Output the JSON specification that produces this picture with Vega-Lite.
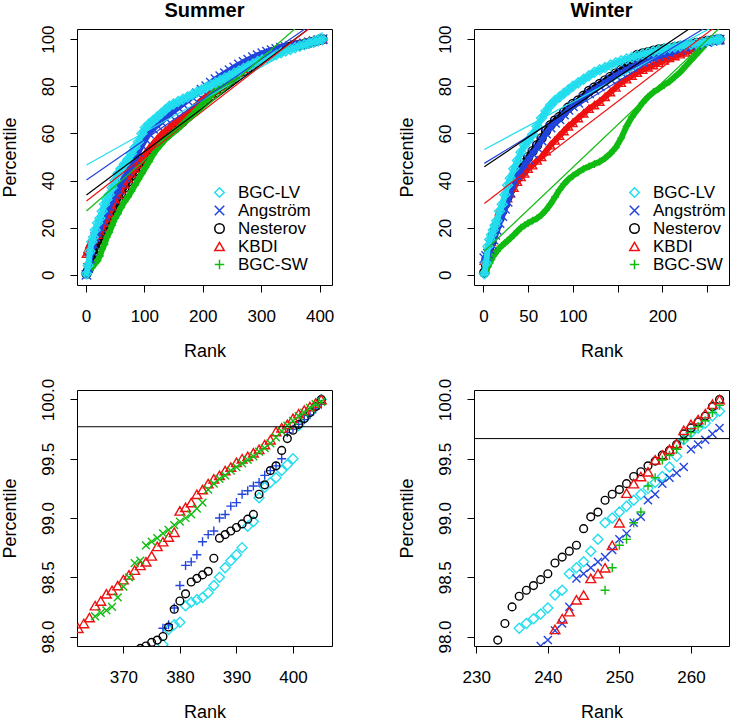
{
"$schema": "https://vega.github.io/schema/vega-lite/v6.json",
"background": "white",
"padding": {"left": 0, "top": 0, "right": 0, "bottom": 0},
"config": {
  "font": "Liberation Sans",
  "view": {"stroke": "black", "strokeWidth": 1},
  "axis": {"domain": false, "grid": false, "ticks": true, "tickColor": "black", "tickSize": 7, "tickWidth": 1, "labelFont": "Liberation Sans", "labelFontSize": 17, "labelColor": "black", "titleFont": "Liberation Sans", "titleFontSize": 18, "titleFontWeight": "normal", "titleColor": "black", "labelFlush": false, "labelOverlap": false},
  "axisX": {"labelPadding": 16, "titlePadding": 18},
  "axisY": {"labelAngle": 270, "labelAlign": "center", "labelBaseline": "bottom", "labelPadding": 12.5, "titlePadding": 20.5},
  "legend": {"labelFontSize": 17, "labelFont": "Liberation Sans", "labelColor": "black", "symbolSize": 90, "symbolStrokeWidth": 1.5, "labelOffset": 10, "rowPadding": 0},
  "title": {"font": "Liberation Sans", "fontSize": 20, "fontWeight": "bold", "color": "black", "offset": 4, "anchor": "middle"}
},
"datasets": {
"sum": [
{"s":"Nesterov","r":1,"p":0.5},{"s":"Nesterov","r":4,"p":2},{"s":"Nesterov","r":7,"p":4},{"s":"Nesterov","r":10,"p":7},{"s":"Nesterov","r":13,"p":9},{"s":"Nesterov","r":16,"p":11},{"s":"Nesterov","r":20,"p":13},{"s":"Nesterov","r":24,"p":15},{"s":"Nesterov","r":28,"p":17},{"s":"Nesterov","r":32,"p":19},{"s":"Nesterov","r":36,"p":21},{"s":"Nesterov","r":40,"p":23},{"s":"Nesterov","r":45,"p":26},{"s":"Nesterov","r":50,"p":29},{"s":"Nesterov","r":55,"p":32},{"s":"Nesterov","r":60,"p":34.5},{"s":"Nesterov","r":66,"p":37},{"s":"Nesterov","r":72,"p":39.5},{"s":"Nesterov","r":78,"p":42},{"s":"Nesterov","r":84,"p":44},{"s":"Nesterov","r":90,"p":46},{"s":"Nesterov","r":96,"p":48},{"s":"Nesterov","r":102,"p":50},{"s":"Nesterov","r":108,"p":52},{"s":"Nesterov","r":115,"p":54},{"s":"Nesterov","r":122,"p":56},{"s":"Nesterov","r":129,"p":57.5},{"s":"Nesterov","r":136,"p":59},{"s":"Nesterov","r":143,"p":60.5},{"s":"Nesterov","r":150,"p":62},{"s":"Nesterov","r":158,"p":63.5},{"s":"Nesterov","r":166,"p":65},{"s":"Nesterov","r":174,"p":67},{"s":"Nesterov","r":182,"p":69},{"s":"Nesterov","r":190,"p":71},{"s":"Nesterov","r":198,"p":73},{"s":"Nesterov","r":206,"p":74.5},{"s":"Nesterov","r":214,"p":76},{"s":"Nesterov","r":222,"p":77.5},{"s":"Nesterov","r":230,"p":79},{"s":"Nesterov","r":238,"p":80.5},{"s":"Nesterov","r":246,"p":82},{"s":"Nesterov","r":254,"p":83.5},{"s":"Nesterov","r":262,"p":85},{"s":"Nesterov","r":270,"p":86.5},{"s":"Nesterov","r":278,"p":88},{"s":"Nesterov","r":286,"p":89.5},{"s":"Nesterov","r":294,"p":90.8},{"s":"Nesterov","r":302,"p":92},{"s":"Nesterov","r":310,"p":93},{"s":"Nesterov","r":318,"p":94},{"s":"Nesterov","r":326,"p":95},{"s":"Nesterov","r":334,"p":95.7},{"s":"Nesterov","r":342,"p":96.3},{"s":"Nesterov","r":350,"p":96.8},{"s":"Nesterov","r":358,"p":97.3},{"s":"Nesterov","r":366,"p":97.6},{"s":"Nesterov","r":374,"p":97.92},{"s":"Nesterov","r":382,"p":98.46},{"s":"Nesterov","r":390,"p":98.92},{"s":"Nesterov","r":398,"p":99.57},{"s":"Nesterov","r":405,"p":100},
{"s":"KBDI","r":1,"p":9},{"s":"KBDI","r":4,"p":11},{"s":"KBDI","r":7,"p":13},{"s":"KBDI","r":10,"p":14},{"s":"KBDI","r":13,"p":15},{"s":"KBDI","r":16,"p":16},{"s":"KBDI","r":20,"p":17},{"s":"KBDI","r":24,"p":18.5},{"s":"KBDI","r":28,"p":20},{"s":"KBDI","r":32,"p":22},{"s":"KBDI","r":36,"p":24},{"s":"KBDI","r":40,"p":26},{"s":"KBDI","r":45,"p":29},{"s":"KBDI","r":50,"p":32},{"s":"KBDI","r":55,"p":34},{"s":"KBDI","r":60,"p":36},{"s":"KBDI","r":66,"p":38.5},{"s":"KBDI","r":72,"p":41},{"s":"KBDI","r":78,"p":43},{"s":"KBDI","r":84,"p":45},{"s":"KBDI","r":90,"p":47},{"s":"KBDI","r":96,"p":49},{"s":"KBDI","r":102,"p":51.5},{"s":"KBDI","r":108,"p":53.5},{"s":"KBDI","r":115,"p":55.5},{"s":"KBDI","r":122,"p":57.5},{"s":"KBDI","r":129,"p":59.5},{"s":"KBDI","r":136,"p":61},{"s":"KBDI","r":143,"p":62.5},{"s":"KBDI","r":150,"p":64},{"s":"KBDI","r":158,"p":65.5},{"s":"KBDI","r":166,"p":67},{"s":"KBDI","r":174,"p":68.5},{"s":"KBDI","r":182,"p":70},{"s":"KBDI","r":190,"p":72},{"s":"KBDI","r":198,"p":74},{"s":"KBDI","r":206,"p":75.5},{"s":"KBDI","r":214,"p":77},{"s":"KBDI","r":222,"p":78.5},{"s":"KBDI","r":230,"p":80},{"s":"KBDI","r":238,"p":81.5},{"s":"KBDI","r":246,"p":83},{"s":"KBDI","r":254,"p":84.5},{"s":"KBDI","r":262,"p":86},{"s":"KBDI","r":270,"p":87.5},{"s":"KBDI","r":278,"p":89},{"s":"KBDI","r":286,"p":90.3},{"s":"KBDI","r":294,"p":91.5},{"s":"KBDI","r":302,"p":92.7},{"s":"KBDI","r":310,"p":93.7},{"s":"KBDI","r":318,"p":94.6},{"s":"KBDI","r":326,"p":95.4},{"s":"KBDI","r":334,"p":96.1},{"s":"KBDI","r":342,"p":96.7},{"s":"KBDI","r":350,"p":97.2},{"s":"KBDI","r":358,"p":97.7},{"s":"KBDI","r":366,"p":98.3},{"s":"KBDI","r":374,"p":98.63},{"s":"KBDI","r":382,"p":99.13},{"s":"KBDI","r":390,"p":99.47},{"s":"KBDI","r":398,"p":99.76},{"s":"KBDI","r":405,"p":100},
{"s":"BGC-SW","r":1,"p":0.5},{"s":"BGC-SW","r":4,"p":1},{"s":"BGC-SW","r":7,"p":2},{"s":"BGC-SW","r":10,"p":3},{"s":"BGC-SW","r":13,"p":4},{"s":"BGC-SW","r":16,"p":5},{"s":"BGC-SW","r":20,"p":6},{"s":"BGC-SW","r":24,"p":8},{"s":"BGC-SW","r":28,"p":11},{"s":"BGC-SW","r":32,"p":13},{"s":"BGC-SW","r":36,"p":16},{"s":"BGC-SW","r":40,"p":18},{"s":"BGC-SW","r":45,"p":21},{"s":"BGC-SW","r":50,"p":24},{"s":"BGC-SW","r":55,"p":26},{"s":"BGC-SW","r":60,"p":28.5},{"s":"BGC-SW","r":66,"p":31},{"s":"BGC-SW","r":72,"p":33},{"s":"BGC-SW","r":78,"p":35.5},{"s":"BGC-SW","r":84,"p":38},{"s":"BGC-SW","r":90,"p":40.5},{"s":"BGC-SW","r":96,"p":43},{"s":"BGC-SW","r":102,"p":45.5},{"s":"BGC-SW","r":108,"p":48},{"s":"BGC-SW","r":115,"p":51},{"s":"BGC-SW","r":122,"p":53.5},{"s":"BGC-SW","r":129,"p":55.5},{"s":"BGC-SW","r":136,"p":57.5},{"s":"BGC-SW","r":143,"p":59},{"s":"BGC-SW","r":150,"p":60.5},{"s":"BGC-SW","r":158,"p":62},{"s":"BGC-SW","r":166,"p":64},{"s":"BGC-SW","r":174,"p":66},{"s":"BGC-SW","r":182,"p":68},{"s":"BGC-SW","r":190,"p":70},{"s":"BGC-SW","r":198,"p":72},{"s":"BGC-SW","r":206,"p":74},{"s":"BGC-SW","r":214,"p":76},{"s":"BGC-SW","r":222,"p":78},{"s":"BGC-SW","r":230,"p":79.5},{"s":"BGC-SW","r":238,"p":81},{"s":"BGC-SW","r":246,"p":82.5},{"s":"BGC-SW","r":254,"p":84},{"s":"BGC-SW","r":262,"p":85.5},{"s":"BGC-SW","r":270,"p":87},{"s":"BGC-SW","r":278,"p":88.5},{"s":"BGC-SW","r":286,"p":90},{"s":"BGC-SW","r":294,"p":91.3},{"s":"BGC-SW","r":302,"p":92.5},{"s":"BGC-SW","r":310,"p":93.5},{"s":"BGC-SW","r":318,"p":94.5},{"s":"BGC-SW","r":326,"p":95.3},{"s":"BGC-SW","r":334,"p":96},{"s":"BGC-SW","r":342,"p":96.6},{"s":"BGC-SW","r":350,"p":97.1},{"s":"BGC-SW","r":358,"p":97.7},{"s":"BGC-SW","r":366,"p":98.2},{"s":"BGC-SW","r":374,"p":98.77},{"s":"BGC-SW","r":382,"p":99.03},{"s":"BGC-SW","r":390,"p":99.43},{"s":"BGC-SW","r":398,"p":99.73},{"s":"BGC-SW","r":405,"p":99.98},
{"s":"Angström","r":1,"p":0},{"s":"Angström","r":4,"p":3},{"s":"Angström","r":7,"p":7},{"s":"Angström","r":10,"p":10},{"s":"Angström","r":13,"p":13},{"s":"Angström","r":16,"p":16},{"s":"Angström","r":20,"p":18},{"s":"Angström","r":24,"p":20},{"s":"Angström","r":28,"p":23},{"s":"Angström","r":32,"p":25},{"s":"Angström","r":36,"p":27},{"s":"Angström","r":40,"p":29},{"s":"Angström","r":45,"p":32},{"s":"Angström","r":50,"p":34},{"s":"Angström","r":55,"p":36},{"s":"Angström","r":60,"p":39},{"s":"Angström","r":66,"p":41.5},{"s":"Angström","r":72,"p":44},{"s":"Angström","r":78,"p":46.5},{"s":"Angström","r":84,"p":49},{"s":"Angström","r":90,"p":52},{"s":"Angström","r":96,"p":55},{"s":"Angström","r":102,"p":57.5},{"s":"Angström","r":108,"p":60},{"s":"Angström","r":115,"p":62},{"s":"Angström","r":122,"p":63.5},{"s":"Angström","r":129,"p":65},{"s":"Angström","r":136,"p":66.5},{"s":"Angström","r":143,"p":68},{"s":"Angström","r":150,"p":69.5},{"s":"Angström","r":158,"p":71},{"s":"Angström","r":166,"p":72.5},{"s":"Angström","r":174,"p":74},{"s":"Angström","r":182,"p":75.5},{"s":"Angström","r":190,"p":77},{"s":"Angström","r":198,"p":78.5},{"s":"Angström","r":206,"p":80},{"s":"Angström","r":214,"p":81.5},{"s":"Angström","r":222,"p":83},{"s":"Angström","r":230,"p":84.3},{"s":"Angström","r":238,"p":85.5},{"s":"Angström","r":246,"p":86.8},{"s":"Angström","r":254,"p":88},{"s":"Angström","r":262,"p":89.2},{"s":"Angström","r":270,"p":90.3},{"s":"Angström","r":278,"p":91.3},{"s":"Angström","r":286,"p":92.3},{"s":"Angström","r":294,"p":93.2},{"s":"Angström","r":302,"p":94},{"s":"Angström","r":310,"p":94.7},{"s":"Angström","r":318,"p":95.3},{"s":"Angström","r":326,"p":95.8},{"s":"Angström","r":334,"p":96.3},{"s":"Angström","r":342,"p":96.7},{"s":"Angström","r":350,"p":97.1},{"s":"Angström","r":358,"p":97.5},{"s":"Angström","r":366,"p":97.8},{"s":"Angström","r":374,"p":98},{"s":"Angström","r":382,"p":98.6},{"s":"Angström","r":390,"p":99.1},{"s":"Angström","r":398,"p":99.5},{"s":"Angström","r":405,"p":99.96},
{"s":"BGC-LV","r":1,"p":0.5},{"s":"BGC-LV","r":4,"p":4},{"s":"BGC-LV","r":7,"p":10},{"s":"BGC-LV","r":10,"p":14},{"s":"BGC-LV","r":13,"p":16},{"s":"BGC-LV","r":16,"p":19},{"s":"BGC-LV","r":20,"p":22},{"s":"BGC-LV","r":24,"p":24},{"s":"BGC-LV","r":28,"p":27},{"s":"BGC-LV","r":32,"p":30},{"s":"BGC-LV","r":36,"p":32},{"s":"BGC-LV","r":40,"p":34},{"s":"BGC-LV","r":45,"p":37},{"s":"BGC-LV","r":50,"p":40},{"s":"BGC-LV","r":55,"p":43},{"s":"BGC-LV","r":60,"p":45},{"s":"BGC-LV","r":66,"p":47},{"s":"BGC-LV","r":72,"p":49},{"s":"BGC-LV","r":78,"p":51.5},{"s":"BGC-LV","r":84,"p":54},{"s":"BGC-LV","r":90,"p":56.5},{"s":"BGC-LV","r":96,"p":60},{"s":"BGC-LV","r":102,"p":62.5},{"s":"BGC-LV","r":108,"p":64},{"s":"BGC-LV","r":115,"p":65.5},{"s":"BGC-LV","r":122,"p":67},{"s":"BGC-LV","r":129,"p":68.5},{"s":"BGC-LV","r":136,"p":70},{"s":"BGC-LV","r":143,"p":71.5},{"s":"BGC-LV","r":150,"p":72.5},{"s":"BGC-LV","r":158,"p":73.5},{"s":"BGC-LV","r":166,"p":74.5},{"s":"BGC-LV","r":174,"p":75.5},{"s":"BGC-LV","r":182,"p":76.5},{"s":"BGC-LV","r":190,"p":77.5},{"s":"BGC-LV","r":198,"p":78.5},{"s":"BGC-LV","r":206,"p":79.5},{"s":"BGC-LV","r":214,"p":80.5},{"s":"BGC-LV","r":222,"p":81.5},{"s":"BGC-LV","r":230,"p":82.5},{"s":"BGC-LV","r":238,"p":83.5},{"s":"BGC-LV","r":246,"p":84.5},{"s":"BGC-LV","r":254,"p":85.5},{"s":"BGC-LV","r":262,"p":86.5},{"s":"BGC-LV","r":270,"p":87.5},{"s":"BGC-LV","r":278,"p":88.5},{"s":"BGC-LV","r":286,"p":89.5},{"s":"BGC-LV","r":294,"p":90.5},{"s":"BGC-LV","r":302,"p":91.3},{"s":"BGC-LV","r":310,"p":92},{"s":"BGC-LV","r":318,"p":92.8},{"s":"BGC-LV","r":326,"p":93.5},{"s":"BGC-LV","r":334,"p":94.2},{"s":"BGC-LV","r":342,"p":95},{"s":"BGC-LV","r":350,"p":95.6},{"s":"BGC-LV","r":358,"p":96.3},{"s":"BGC-LV","r":366,"p":97},{"s":"BGC-LV","r":374,"p":97.6},{"s":"BGC-LV","r":382,"p":98.3},{"s":"BGC-LV","r":390,"p":98.7},{"s":"BGC-LV","r":398,"p":99.4},{"s":"BGC-LV","r":405,"p":100}
],
"win": [
{"s":"Nesterov","r":1,"p":1},{"s":"Nesterov","r":3,"p":4},{"s":"Nesterov","r":5,"p":7},{"s":"Nesterov","r":7,"p":10},{"s":"Nesterov","r":9,"p":14},{"s":"Nesterov","r":11,"p":17},{"s":"Nesterov","r":13,"p":19},{"s":"Nesterov","r":15,"p":21},{"s":"Nesterov","r":18,"p":24},{"s":"Nesterov","r":21,"p":27},{"s":"Nesterov","r":24,"p":30},{"s":"Nesterov","r":27,"p":33},{"s":"Nesterov","r":30,"p":36},{"s":"Nesterov","r":34,"p":40.5},{"s":"Nesterov","r":38,"p":43},{"s":"Nesterov","r":42,"p":45.5},{"s":"Nesterov","r":46,"p":47.5},{"s":"Nesterov","r":50,"p":50},{"s":"Nesterov","r":55,"p":52.5},{"s":"Nesterov","r":60,"p":55},{"s":"Nesterov","r":65,"p":58},{"s":"Nesterov","r":70,"p":61},{"s":"Nesterov","r":75,"p":63.5},{"s":"Nesterov","r":80,"p":65.5},{"s":"Nesterov","r":85,"p":67},{"s":"Nesterov","r":90,"p":69},{"s":"Nesterov","r":95,"p":71},{"s":"Nesterov","r":100,"p":72.5},{"s":"Nesterov","r":106,"p":74},{"s":"Nesterov","r":112,"p":76},{"s":"Nesterov","r":118,"p":78},{"s":"Nesterov","r":124,"p":79.5},{"s":"Nesterov","r":130,"p":81},{"s":"Nesterov","r":136,"p":82.5},{"s":"Nesterov","r":142,"p":84},{"s":"Nesterov","r":148,"p":85.5},{"s":"Nesterov","r":154,"p":87},{"s":"Nesterov","r":160,"p":89},{"s":"Nesterov","r":166,"p":91.5},{"s":"Nesterov","r":172,"p":93.3},{"s":"Nesterov","r":178,"p":93.9},{"s":"Nesterov","r":184,"p":94.5},{"s":"Nesterov","r":190,"p":95.1},{"s":"Nesterov","r":196,"p":95.6},{"s":"Nesterov","r":202,"p":96},{"s":"Nesterov","r":208,"p":96.3},{"s":"Nesterov","r":214,"p":96.7},{"s":"Nesterov","r":220,"p":97.1},{"s":"Nesterov","r":226,"p":97.5},{"s":"Nesterov","r":232,"p":97.85},{"s":"Nesterov","r":238,"p":98.43},{"s":"Nesterov","r":244,"p":98.77},{"s":"Nesterov","r":250,"p":99.24},{"s":"Nesterov","r":256,"p":99.53},{"s":"Nesterov","r":262,"p":99.86},{"s":"Nesterov","r":264,"p":100},
{"s":"KBDI","r":1,"p":6},{"s":"KBDI","r":3,"p":7},{"s":"KBDI","r":5,"p":9},{"s":"KBDI","r":7,"p":11},{"s":"KBDI","r":9,"p":14},{"s":"KBDI","r":11,"p":17},{"s":"KBDI","r":13,"p":20},{"s":"KBDI","r":15,"p":23},{"s":"KBDI","r":18,"p":27},{"s":"KBDI","r":21,"p":28.5},{"s":"KBDI","r":24,"p":30.5},{"s":"KBDI","r":27,"p":32.5},{"s":"KBDI","r":30,"p":34.5},{"s":"KBDI","r":34,"p":37},{"s":"KBDI","r":38,"p":39.5},{"s":"KBDI","r":42,"p":41.5},{"s":"KBDI","r":46,"p":43},{"s":"KBDI","r":50,"p":45},{"s":"KBDI","r":55,"p":46.5},{"s":"KBDI","r":60,"p":48.5},{"s":"KBDI","r":65,"p":50},{"s":"KBDI","r":70,"p":52.5},{"s":"KBDI","r":75,"p":55},{"s":"KBDI","r":80,"p":57},{"s":"KBDI","r":85,"p":59},{"s":"KBDI","r":90,"p":61},{"s":"KBDI","r":95,"p":63},{"s":"KBDI","r":100,"p":64.5},{"s":"KBDI","r":106,"p":66.5},{"s":"KBDI","r":112,"p":68.5},{"s":"KBDI","r":118,"p":70.5},{"s":"KBDI","r":124,"p":72},{"s":"KBDI","r":130,"p":73.5},{"s":"KBDI","r":136,"p":75.5},{"s":"KBDI","r":142,"p":77.5},{"s":"KBDI","r":148,"p":79.5},{"s":"KBDI","r":154,"p":81.5},{"s":"KBDI","r":160,"p":83},{"s":"KBDI","r":166,"p":84.5},{"s":"KBDI","r":172,"p":85.8},{"s":"KBDI","r":178,"p":87},{"s":"KBDI","r":184,"p":88},{"s":"KBDI","r":190,"p":89},{"s":"KBDI","r":196,"p":90},{"s":"KBDI","r":202,"p":91},{"s":"KBDI","r":208,"p":92},{"s":"KBDI","r":214,"p":92.8},{"s":"KBDI","r":220,"p":93.6},{"s":"KBDI","r":226,"p":94.4},{"s":"KBDI","r":232,"p":95.4},{"s":"KBDI","r":238,"p":97.6},{"s":"KBDI","r":244,"p":98.31},{"s":"KBDI","r":250,"p":98.96},{"s":"KBDI","r":256,"p":99.53},{"s":"KBDI","r":262,"p":99.88},{"s":"KBDI","r":264,"p":100},
{"s":"BGC-SW","r":1,"p":1},{"s":"BGC-SW","r":3,"p":2},{"s":"BGC-SW","r":5,"p":3.5},{"s":"BGC-SW","r":7,"p":5},{"s":"BGC-SW","r":9,"p":6.5},{"s":"BGC-SW","r":11,"p":8},{"s":"BGC-SW","r":13,"p":9},{"s":"BGC-SW","r":15,"p":10},{"s":"BGC-SW","r":18,"p":11.5},{"s":"BGC-SW","r":21,"p":12.5},{"s":"BGC-SW","r":24,"p":13.5},{"s":"BGC-SW","r":27,"p":14.5},{"s":"BGC-SW","r":30,"p":15.5},{"s":"BGC-SW","r":34,"p":17},{"s":"BGC-SW","r":38,"p":18.5},{"s":"BGC-SW","r":42,"p":20},{"s":"BGC-SW","r":46,"p":21},{"s":"BGC-SW","r":50,"p":22},{"s":"BGC-SW","r":55,"p":23},{"s":"BGC-SW","r":60,"p":24},{"s":"BGC-SW","r":65,"p":25.5},{"s":"BGC-SW","r":70,"p":27.5},{"s":"BGC-SW","r":75,"p":30},{"s":"BGC-SW","r":80,"p":33},{"s":"BGC-SW","r":85,"p":36},{"s":"BGC-SW","r":90,"p":38.5},{"s":"BGC-SW","r":95,"p":40.5},{"s":"BGC-SW","r":100,"p":42},{"s":"BGC-SW","r":106,"p":43.5},{"s":"BGC-SW","r":112,"p":45},{"s":"BGC-SW","r":118,"p":46},{"s":"BGC-SW","r":124,"p":47},{"s":"BGC-SW","r":130,"p":48},{"s":"BGC-SW","r":136,"p":49.5},{"s":"BGC-SW","r":142,"p":51.5},{"s":"BGC-SW","r":148,"p":54},{"s":"BGC-SW","r":154,"p":58},{"s":"BGC-SW","r":160,"p":63},{"s":"BGC-SW","r":166,"p":67},{"s":"BGC-SW","r":172,"p":70},{"s":"BGC-SW","r":178,"p":73},{"s":"BGC-SW","r":184,"p":75.5},{"s":"BGC-SW","r":190,"p":77.5},{"s":"BGC-SW","r":196,"p":79},{"s":"BGC-SW","r":202,"p":80.5},{"s":"BGC-SW","r":208,"p":82},{"s":"BGC-SW","r":214,"p":84},{"s":"BGC-SW","r":220,"p":86},{"s":"BGC-SW","r":226,"p":88.5},{"s":"BGC-SW","r":232,"p":91},{"s":"BGC-SW","r":238,"p":93.5},{"s":"BGC-SW","r":244,"p":96},{"s":"BGC-SW","r":250,"p":98.77},{"s":"BGC-SW","r":256,"p":99.49},{"s":"BGC-SW","r":262,"p":99.82},{"s":"BGC-SW","r":264,"p":99.95},
{"s":"Angström","r":1,"p":7},{"s":"Angström","r":3,"p":8},{"s":"Angström","r":5,"p":9},{"s":"Angström","r":7,"p":11},{"s":"Angström","r":9,"p":13},{"s":"Angström","r":11,"p":15},{"s":"Angström","r":13,"p":17},{"s":"Angström","r":15,"p":19},{"s":"Angström","r":18,"p":22},{"s":"Angström","r":21,"p":25},{"s":"Angström","r":24,"p":28},{"s":"Angström","r":27,"p":31},{"s":"Angström","r":30,"p":35},{"s":"Angström","r":34,"p":40},{"s":"Angström","r":38,"p":42},{"s":"Angström","r":42,"p":44.5},{"s":"Angström","r":46,"p":46.5},{"s":"Angström","r":50,"p":49},{"s":"Angström","r":55,"p":51.5},{"s":"Angström","r":60,"p":54},{"s":"Angström","r":65,"p":57},{"s":"Angström","r":70,"p":60},{"s":"Angström","r":75,"p":62.5},{"s":"Angström","r":80,"p":64.5},{"s":"Angström","r":85,"p":66},{"s":"Angström","r":90,"p":68},{"s":"Angström","r":95,"p":70},{"s":"Angström","r":100,"p":71.5},{"s":"Angström","r":106,"p":73},{"s":"Angström","r":112,"p":75},{"s":"Angström","r":118,"p":77},{"s":"Angström","r":124,"p":78.5},{"s":"Angström","r":130,"p":80},{"s":"Angström","r":136,"p":81.5},{"s":"Angström","r":142,"p":83},{"s":"Angström","r":148,"p":84.5},{"s":"Angström","r":154,"p":85.8},{"s":"Angström","r":160,"p":87},{"s":"Angström","r":166,"p":88.2},{"s":"Angström","r":172,"p":89.3},{"s":"Angström","r":178,"p":90.3},{"s":"Angström","r":184,"p":91.2},{"s":"Angström","r":190,"p":92},{"s":"Angström","r":196,"p":92.8},{"s":"Angström","r":202,"p":93.5},{"s":"Angström","r":208,"p":94.2},{"s":"Angström","r":214,"p":94.9},{"s":"Angström","r":220,"p":95.6},{"s":"Angström","r":226,"p":96.3},{"s":"Angström","r":232,"p":97},{"s":"Angström","r":238,"p":97.7},{"s":"Angström","r":244,"p":98.49},{"s":"Angström","r":250,"p":98.82},{"s":"Angström","r":256,"p":99.29},{"s":"Angström","r":262,"p":99.66},{"s":"Angström","r":264,"p":99.76},
{"s":"BGC-LV","r":1,"p":0.5},{"s":"BGC-LV","r":3,"p":5},{"s":"BGC-LV","r":5,"p":12},{"s":"BGC-LV","r":7,"p":15},{"s":"BGC-LV","r":9,"p":17},{"s":"BGC-LV","r":11,"p":19},{"s":"BGC-LV","r":13,"p":21},{"s":"BGC-LV","r":15,"p":23},{"s":"BGC-LV","r":18,"p":27},{"s":"BGC-LV","r":21,"p":30},{"s":"BGC-LV","r":24,"p":34},{"s":"BGC-LV","r":27,"p":38},{"s":"BGC-LV","r":30,"p":41},{"s":"BGC-LV","r":34,"p":45},{"s":"BGC-LV","r":38,"p":48.5},{"s":"BGC-LV","r":42,"p":52},{"s":"BGC-LV","r":46,"p":55},{"s":"BGC-LV","r":50,"p":57},{"s":"BGC-LV","r":55,"p":59.5},{"s":"BGC-LV","r":60,"p":63},{"s":"BGC-LV","r":65,"p":66.5},{"s":"BGC-LV","r":70,"p":69.5},{"s":"BGC-LV","r":75,"p":72},{"s":"BGC-LV","r":80,"p":74},{"s":"BGC-LV","r":85,"p":75.5},{"s":"BGC-LV","r":90,"p":77},{"s":"BGC-LV","r":95,"p":78.5},{"s":"BGC-LV","r":100,"p":80},{"s":"BGC-LV","r":106,"p":81.5},{"s":"BGC-LV","r":112,"p":83},{"s":"BGC-LV","r":118,"p":84.5},{"s":"BGC-LV","r":124,"p":86},{"s":"BGC-LV","r":130,"p":87},{"s":"BGC-LV","r":136,"p":88},{"s":"BGC-LV","r":142,"p":89},{"s":"BGC-LV","r":148,"p":90},{"s":"BGC-LV","r":154,"p":90.8},{"s":"BGC-LV","r":160,"p":91.6},{"s":"BGC-LV","r":166,"p":92.3},{"s":"BGC-LV","r":172,"p":93},{"s":"BGC-LV","r":178,"p":93.6},{"s":"BGC-LV","r":184,"p":94.2},{"s":"BGC-LV","r":190,"p":94.8},{"s":"BGC-LV","r":196,"p":95.3},{"s":"BGC-LV","r":202,"p":95.8},{"s":"BGC-LV","r":208,"p":96.3},{"s":"BGC-LV","r":214,"p":96.7},{"s":"BGC-LV","r":220,"p":97.1},{"s":"BGC-LV","r":226,"p":97.5},{"s":"BGC-LV","r":232,"p":97.8},{"s":"BGC-LV","r":238,"p":98.15},{"s":"BGC-LV","r":244,"p":98.58},{"s":"BGC-LV","r":250,"p":99.05},{"s":"BGC-LV","r":256,"p":99.35},{"s":"BGC-LV","r":262,"p":99.8},{"s":"BGC-LV","r":264,"p":99.9}
],
"suml": [
{"s":"BGC-LV","r":1,"p":46.6},{"s":"BGC-LV","r":405,"p":102.8},
{"s":"Angström","r":1,"p":40.2},{"s":"Angström","r":405,"p":109.5},
{"s":"Nesterov","r":1,"p":33.9},{"s":"Nesterov","r":405,"p":108.8},
{"s":"KBDI","r":1,"p":31.3},{"s":"KBDI","r":405,"p":108.9},
{"s":"BGC-SW","r":1,"p":27.1},{"s":"BGC-SW","r":405,"p":114.6}
],
"winl": [
{"s":"BGC-LV","r":1,"p":53.2},{"s":"BGC-LV","r":264,"p":106.7},
{"s":"Angström","r":1,"p":47.3},{"s":"Angström","r":264,"p":108.6},
{"s":"Nesterov","r":1,"p":45.9},{"s":"Nesterov","r":264,"p":113},
{"s":"KBDI","r":1,"p":30.3},{"s":"KBDI","r":264,"p":106.6},
{"s":"BGC-SW","r":1,"p":10},{"s":"BGC-SW","r":264,"p":104.7}
],
"sumz": [
{"s":"BGC-LV","r":377,"p":97.93},{"s":"BGC-LV","r":378,"p":98.06},{"s":"BGC-LV","r":379,"p":98.1},{"s":"BGC-LV","r":380,"p":98.12},{"s":"BGC-LV","r":381,"p":98.26},{"s":"BGC-LV","r":382,"p":98.29},{"s":"BGC-LV","r":383,"p":98.31},{"s":"BGC-LV","r":384,"p":98.33},{"s":"BGC-LV","r":385,"p":98.37},{"s":"BGC-LV","r":386,"p":98.43},{"s":"BGC-LV","r":387,"p":98.5},{"s":"BGC-LV","r":388,"p":98.58},{"s":"BGC-LV","r":389,"p":98.64},{"s":"BGC-LV","r":390,"p":98.69},{"s":"BGC-LV","r":391,"p":98.75},{"s":"BGC-LV","r":392,"p":98.93},{"s":"BGC-LV","r":393,"p":98.97},{"s":"BGC-LV","r":394,"p":99.17},{"s":"BGC-LV","r":395,"p":99.26},{"s":"BGC-LV","r":396,"p":99.3},{"s":"BGC-LV","r":397,"p":99.34},{"s":"BGC-LV","r":398,"p":99.4},{"s":"BGC-LV","r":399,"p":99.45},{"s":"BGC-LV","r":400,"p":99.5},{"s":"BGC-LV","r":401,"p":99.78},{"s":"BGC-LV","r":402,"p":99.84},{"s":"BGC-LV","r":403,"p":99.89},{"s":"BGC-LV","r":404,"p":99.94},{"s":"BGC-LV","r":405,"p":100},
{"s":"Angström","r":377,"p":98.07},{"s":"Angström","r":378,"p":98.1},{"s":"Angström","r":379,"p":98.24},{"s":"Angström","r":380,"p":98.43},{"s":"Angström","r":381,"p":98.6},{"s":"Angström","r":382,"p":98.63},{"s":"Angström","r":383,"p":98.69},{"s":"Angström","r":384,"p":98.8},{"s":"Angström","r":385,"p":98.86},{"s":"Angström","r":386,"p":98.89},{"s":"Angström","r":387,"p":99},{"s":"Angström","r":388,"p":99.03},{"s":"Angström","r":389,"p":99.1},{"s":"Angström","r":390,"p":99.13},{"s":"Angström","r":391,"p":99.2},{"s":"Angström","r":392,"p":99.23},{"s":"Angström","r":393,"p":99.27},{"s":"Angström","r":394,"p":99.3},{"s":"Angström","r":395,"p":99.36},{"s":"Angström","r":396,"p":99.4},{"s":"Angström","r":397,"p":99.44},{"s":"Angström","r":398,"p":99.5},{"s":"Angström","r":399,"p":99.72},{"s":"Angström","r":400,"p":99.75},{"s":"Angström","r":401,"p":99.79},{"s":"Angström","r":402,"p":99.83},{"s":"Angström","r":403,"p":99.87},{"s":"Angström","r":404,"p":99.92},{"s":"Angström","r":405,"p":99.96},
{"s":"Nesterov","r":373,"p":97.9},{"s":"Nesterov","r":374,"p":97.92},{"s":"Nesterov","r":375,"p":97.95},{"s":"Nesterov","r":376,"p":97.97},{"s":"Nesterov","r":377,"p":98},{"s":"Nesterov","r":378,"p":98.08},{"s":"Nesterov","r":379,"p":98.23},{"s":"Nesterov","r":380,"p":98.3},{"s":"Nesterov","r":381,"p":98.36},{"s":"Nesterov","r":382,"p":98.46},{"s":"Nesterov","r":383,"p":98.49},{"s":"Nesterov","r":384,"p":98.52},{"s":"Nesterov","r":385,"p":98.55},{"s":"Nesterov","r":386,"p":98.66},{"s":"Nesterov","r":387,"p":98.83},{"s":"Nesterov","r":388,"p":98.86},{"s":"Nesterov","r":389,"p":98.89},{"s":"Nesterov","r":390,"p":98.92},{"s":"Nesterov","r":391,"p":98.95},{"s":"Nesterov","r":392,"p":98.99},{"s":"Nesterov","r":393,"p":99.03},{"s":"Nesterov","r":394,"p":99.2},{"s":"Nesterov","r":395,"p":99.28},{"s":"Nesterov","r":396,"p":99.4},{"s":"Nesterov","r":397,"p":99.44},{"s":"Nesterov","r":398,"p":99.57},{"s":"Nesterov","r":399,"p":99.67},{"s":"Nesterov","r":400,"p":99.74},{"s":"Nesterov","r":401,"p":99.79},{"s":"Nesterov","r":402,"p":99.84},{"s":"Nesterov","r":403,"p":99.89},{"s":"Nesterov","r":404,"p":99.94},{"s":"Nesterov","r":405,"p":100},
{"s":"KBDI","r":362,"p":98.07},{"s":"KBDI","r":363,"p":98.11},{"s":"KBDI","r":364,"p":98.16},{"s":"KBDI","r":365,"p":98.26},{"s":"KBDI","r":366,"p":98.3},{"s":"KBDI","r":367,"p":98.36},{"s":"KBDI","r":368,"p":98.39},{"s":"KBDI","r":369,"p":98.43},{"s":"KBDI","r":370,"p":98.48},{"s":"KBDI","r":371,"p":98.52},{"s":"KBDI","r":372,"p":98.56},{"s":"KBDI","r":373,"p":98.6},{"s":"KBDI","r":374,"p":98.63},{"s":"KBDI","r":375,"p":98.68},{"s":"KBDI","r":376,"p":98.76},{"s":"KBDI","r":377,"p":98.8},{"s":"KBDI","r":378,"p":98.84},{"s":"KBDI","r":379,"p":98.88},{"s":"KBDI","r":380,"p":99.06},{"s":"KBDI","r":381,"p":99.09},{"s":"KBDI","r":382,"p":99.13},{"s":"KBDI","r":383,"p":99.2},{"s":"KBDI","r":384,"p":99.24},{"s":"KBDI","r":385,"p":99.29},{"s":"KBDI","r":386,"p":99.33},{"s":"KBDI","r":387,"p":99.36},{"s":"KBDI","r":388,"p":99.4},{"s":"KBDI","r":389,"p":99.43},{"s":"KBDI","r":390,"p":99.47},{"s":"KBDI","r":391,"p":99.5},{"s":"KBDI","r":392,"p":99.52},{"s":"KBDI","r":393,"p":99.55},{"s":"KBDI","r":394,"p":99.58},{"s":"KBDI","r":395,"p":99.62},{"s":"KBDI","r":396,"p":99.66},{"s":"KBDI","r":397,"p":99.73},{"s":"KBDI","r":398,"p":99.76},{"s":"KBDI","r":399,"p":99.79},{"s":"KBDI","r":400,"p":99.84},{"s":"KBDI","r":401,"p":99.88},{"s":"KBDI","r":402,"p":99.91},{"s":"KBDI","r":403,"p":99.94},{"s":"KBDI","r":404,"p":99.97},{"s":"KBDI","r":405,"p":100},
{"s":"BGC-SW","r":365,"p":98.17},{"s":"BGC-SW","r":366,"p":98.2},{"s":"BGC-SW","r":367,"p":98.22},{"s":"BGC-SW","r":368,"p":98.25},{"s":"BGC-SW","r":369,"p":98.33},{"s":"BGC-SW","r":370,"p":98.42},{"s":"BGC-SW","r":371,"p":98.5},{"s":"BGC-SW","r":372,"p":98.62},{"s":"BGC-SW","r":373,"p":98.64},{"s":"BGC-SW","r":374,"p":98.77},{"s":"BGC-SW","r":375,"p":98.8},{"s":"BGC-SW","r":376,"p":98.83},{"s":"BGC-SW","r":377,"p":98.87},{"s":"BGC-SW","r":378,"p":98.9},{"s":"BGC-SW","r":379,"p":98.94},{"s":"BGC-SW","r":380,"p":98.97},{"s":"BGC-SW","r":381,"p":99},{"s":"BGC-SW","r":382,"p":99.03},{"s":"BGC-SW","r":383,"p":99.08},{"s":"BGC-SW","r":384,"p":99.13},{"s":"BGC-SW","r":385,"p":99.24},{"s":"BGC-SW","r":386,"p":99.29},{"s":"BGC-SW","r":387,"p":99.33},{"s":"BGC-SW","r":388,"p":99.36},{"s":"BGC-SW","r":389,"p":99.4},{"s":"BGC-SW","r":390,"p":99.43},{"s":"BGC-SW","r":391,"p":99.46},{"s":"BGC-SW","r":392,"p":99.49},{"s":"BGC-SW","r":393,"p":99.52},{"s":"BGC-SW","r":394,"p":99.56},{"s":"BGC-SW","r":395,"p":99.59},{"s":"BGC-SW","r":396,"p":99.63},{"s":"BGC-SW","r":397,"p":99.68},{"s":"BGC-SW","r":398,"p":99.73},{"s":"BGC-SW","r":399,"p":99.78},{"s":"BGC-SW","r":400,"p":99.82},{"s":"BGC-SW","r":401,"p":99.86},{"s":"BGC-SW","r":402,"p":99.89},{"s":"BGC-SW","r":403,"p":99.93},{"s":"BGC-SW","r":404,"p":99.96},{"s":"BGC-SW","r":405,"p":99.98}
],
"winz": [
{"s":"BGC-LV","r":236,"p":98.07},{"s":"BGC-LV","r":237,"p":98.11},{"s":"BGC-LV","r":238,"p":98.15},{"s":"BGC-LV","r":239,"p":98.19},{"s":"BGC-LV","r":240,"p":98.24},{"s":"BGC-LV","r":241,"p":98.35},{"s":"BGC-LV","r":242,"p":98.39},{"s":"BGC-LV","r":243,"p":98.53},{"s":"BGC-LV","r":244,"p":98.58},{"s":"BGC-LV","r":245,"p":98.63},{"s":"BGC-LV","r":246,"p":98.72},{"s":"BGC-LV","r":247,"p":98.82},{"s":"BGC-LV","r":248,"p":98.96},{"s":"BGC-LV","r":249,"p":99},{"s":"BGC-LV","r":250,"p":99.05},{"s":"BGC-LV","r":251,"p":99.1},{"s":"BGC-LV","r":252,"p":99.15},{"s":"BGC-LV","r":253,"p":99.2},{"s":"BGC-LV","r":254,"p":99.25},{"s":"BGC-LV","r":255,"p":99.3},{"s":"BGC-LV","r":256,"p":99.35},{"s":"BGC-LV","r":257,"p":99.43},{"s":"BGC-LV","r":258,"p":99.52},{"s":"BGC-LV","r":259,"p":99.66},{"s":"BGC-LV","r":260,"p":99.72},{"s":"BGC-LV","r":261,"p":99.76},{"s":"BGC-LV","r":262,"p":99.8},{"s":"BGC-LV","r":263,"p":99.86},{"s":"BGC-LV","r":264,"p":99.9},
{"s":"Angström","r":239,"p":97.92},{"s":"Angström","r":240,"p":97.97},{"s":"Angström","r":241,"p":98.05},{"s":"Angström","r":242,"p":98.11},{"s":"Angström","r":243,"p":98.25},{"s":"Angström","r":244,"p":98.49},{"s":"Angström","r":245,"p":98.53},{"s":"Angström","r":246,"p":98.58},{"s":"Angström","r":247,"p":98.63},{"s":"Angström","r":248,"p":98.67},{"s":"Angström","r":249,"p":98.73},{"s":"Angström","r":250,"p":98.82},{"s":"Angström","r":251,"p":98.87},{"s":"Angström","r":252,"p":98.96},{"s":"Angström","r":253,"p":99.01},{"s":"Angström","r":254,"p":99.15},{"s":"Angström","r":255,"p":99.2},{"s":"Angström","r":256,"p":99.29},{"s":"Angström","r":257,"p":99.34},{"s":"Angström","r":258,"p":99.38},{"s":"Angström","r":259,"p":99.43},{"s":"Angström","r":260,"p":99.58},{"s":"Angström","r":261,"p":99.62},{"s":"Angström","r":262,"p":99.66},{"s":"Angström","r":263,"p":99.71},{"s":"Angström","r":264,"p":99.76},
{"s":"Nesterov","r":233,"p":97.97},{"s":"Nesterov","r":234,"p":98.11},{"s":"Nesterov","r":235,"p":98.25},{"s":"Nesterov","r":236,"p":98.34},{"s":"Nesterov","r":237,"p":98.39},{"s":"Nesterov","r":238,"p":98.43},{"s":"Nesterov","r":239,"p":98.48},{"s":"Nesterov","r":240,"p":98.53},{"s":"Nesterov","r":241,"p":98.62},{"s":"Nesterov","r":242,"p":98.67},{"s":"Nesterov","r":243,"p":98.72},{"s":"Nesterov","r":244,"p":98.77},{"s":"Nesterov","r":245,"p":98.91},{"s":"Nesterov","r":246,"p":99.01},{"s":"Nesterov","r":247,"p":99.05},{"s":"Nesterov","r":248,"p":99.15},{"s":"Nesterov","r":249,"p":99.2},{"s":"Nesterov","r":250,"p":99.24},{"s":"Nesterov","r":251,"p":99.29},{"s":"Nesterov","r":252,"p":99.35},{"s":"Nesterov","r":253,"p":99.39},{"s":"Nesterov","r":254,"p":99.44},{"s":"Nesterov","r":255,"p":99.48},{"s":"Nesterov","r":256,"p":99.53},{"s":"Nesterov","r":257,"p":99.57},{"s":"Nesterov","r":258,"p":99.62},{"s":"Nesterov","r":259,"p":99.71},{"s":"Nesterov","r":260,"p":99.76},{"s":"Nesterov","r":261,"p":99.81},{"s":"Nesterov","r":262,"p":99.86},{"s":"Nesterov","r":263,"p":99.94},{"s":"Nesterov","r":264,"p":100},
{"s":"KBDI","r":241,"p":98.06},{"s":"KBDI","r":242,"p":98.15},{"s":"KBDI","r":243,"p":98.21},{"s":"KBDI","r":244,"p":98.31},{"s":"KBDI","r":245,"p":98.35},{"s":"KBDI","r":246,"p":98.49},{"s":"KBDI","r":247,"p":98.53},{"s":"KBDI","r":248,"p":98.58},{"s":"KBDI","r":249,"p":98.77},{"s":"KBDI","r":250,"p":98.96},{"s":"KBDI","r":251,"p":99.21},{"s":"KBDI","r":252,"p":99.29},{"s":"KBDI","r":253,"p":99.35},{"s":"KBDI","r":254,"p":99.39},{"s":"KBDI","r":255,"p":99.49},{"s":"KBDI","r":256,"p":99.53},{"s":"KBDI","r":257,"p":99.58},{"s":"KBDI","r":258,"p":99.63},{"s":"KBDI","r":259,"p":99.74},{"s":"KBDI","r":260,"p":99.79},{"s":"KBDI","r":261,"p":99.83},{"s":"KBDI","r":262,"p":99.88},{"s":"KBDI","r":263,"p":99.96},{"s":"KBDI","r":264,"p":100},
{"s":"BGC-SW","r":248,"p":98.39},{"s":"BGC-SW","r":249,"p":98.58},{"s":"BGC-SW","r":250,"p":98.77},{"s":"BGC-SW","r":251,"p":98.82},{"s":"BGC-SW","r":252,"p":98.96},{"s":"BGC-SW","r":253,"p":99.05},{"s":"BGC-SW","r":254,"p":99.27},{"s":"BGC-SW","r":255,"p":99.34},{"s":"BGC-SW","r":256,"p":99.49},{"s":"BGC-SW","r":257,"p":99.53},{"s":"BGC-SW","r":258,"p":99.58},{"s":"BGC-SW","r":259,"p":99.66},{"s":"BGC-SW","r":260,"p":99.72},{"s":"BGC-SW","r":261,"p":99.77},{"s":"BGC-SW","r":262,"p":99.82},{"s":"BGC-SW","r":263,"p":99.89},{"s":"BGC-SW","r":264,"p":99.95}
]
},
"columns": 2,
"spacing": {"row": 105, "column": 142},
"bounds": "flush",
"resolve": {"scale": {"x": "independent", "y": "independent"}, "legend": {"color": "independent", "shape": "independent"}},
"concat": [
{
  "width": 255, "height": 256,
  "title": {"text": "Summer"},
  "layer": [
    {"data": {"name": "sum"}, "transform": [{"filter": "datum.s === 'Nesterov'"}],
     "mark": {"type": "line", "color": "#000000", "strokeWidth": 6, "strokeCap": "round", "strokeJoin": "round", "clip": true},
     "encoding": {
       "x": {"field": "r", "type": "quantitative", "scale": {"domain": [-15.2, 421.2], "nice": false, "zero": false}, "axis": {"values": [0, 100, 200, 300, 400], "title": "Rank"}},
       "y": {"field": "p", "type": "quantitative", "scale": {"domain": [-4.3, 104.3], "nice": false, "zero": false}, "axis": {"values": [0, 20, 40, 60, 80, 100], "title": "Percentile"}}
     }},
    {"data": {"name": "sum"}, "transform": [{"filter": "datum.s === 'Nesterov'"}],
     "mark": {"type": "point", "filled": false, "strokeWidth": 1.4, "opacity": 1, "clip": true},
     "encoding": {"x": {"field": "r", "type": "quantitative"}, "y": {"field": "p", "type": "quantitative"},
       "color": {"field": "s", "type": "nominal", "scale": {"domain": ["BGC-LV", "Angström", "Nesterov", "KBDI", "BGC-SW"], "range": ["#22DDEE", "#2244DD", "#000000", "#EE1111", "#11BB11"]}, "legend": {"title": null, "orient": "none", "legendX": 134, "legendY": 155}},
       "shape": {"field": "s", "type": "nominal", "scale": {"domain": ["BGC-LV", "Angström", "Nesterov", "KBDI", "BGC-SW"], "range": ["diamond", "M-1,-1L1,1M-1,1L1,-1", "circle", "triangle-up", "M-1,0L1,0M0,-1L0,1"]}, "legend": {"title": null, "orient": "none", "legendX": 134, "legendY": 155}},
       "size": {"field": "s", "type": "nominal", "scale": {"domain": ["BGC-LV", "Angström", "Nesterov", "KBDI", "BGC-SW"], "range": [100, 60, 60, 90, 75]}, "legend": null}}},
    {"data": {"name": "sum"}, "transform": [{"filter": "datum.s === 'KBDI'"}],
     "mark": {"type": "line", "color": "#EE1111", "strokeWidth": 6, "strokeCap": "round", "strokeJoin": "round", "clip": true},
     "encoding": {"x": {"field": "r", "type": "quantitative"}, "y": {"field": "p", "type": "quantitative"}}},
    {"data": {"name": "sum"}, "transform": [{"filter": "datum.s === 'KBDI'"}],
     "mark": {"type": "point", "filled": false, "strokeWidth": 1.4, "opacity": 1, "clip": true},
     "encoding": {"x": {"field": "r", "type": "quantitative"}, "y": {"field": "p", "type": "quantitative"},
       "color": {"field": "s", "type": "nominal", "legend": {"title": null, "orient": "none", "legendX": 134, "legendY": 155}},
       "shape": {"field": "s", "type": "nominal", "legend": {"title": null, "orient": "none", "legendX": 134, "legendY": 155}},
       "size": {"field": "s", "type": "nominal", "legend": null}}},
    {"data": {"name": "sum"}, "transform": [{"filter": "datum.s === 'BGC-SW'"}],
     "mark": {"type": "line", "color": "#11BB11", "strokeWidth": 6, "strokeCap": "round", "strokeJoin": "round", "clip": true},
     "encoding": {"x": {"field": "r", "type": "quantitative"}, "y": {"field": "p", "type": "quantitative"}}},
    {"data": {"name": "sum"}, "transform": [{"filter": "datum.s === 'BGC-SW'"}],
     "mark": {"type": "point", "filled": false, "strokeWidth": 1.4, "opacity": 1, "clip": true},
     "encoding": {"x": {"field": "r", "type": "quantitative"}, "y": {"field": "p", "type": "quantitative"},
       "color": {"field": "s", "type": "nominal", "legend": {"title": null, "orient": "none", "legendX": 134, "legendY": 155}},
       "shape": {"field": "s", "type": "nominal", "legend": {"title": null, "orient": "none", "legendX": 134, "legendY": 155}},
       "size": {"field": "s", "type": "nominal", "legend": null}}},
    {"data": {"name": "sum"}, "transform": [{"filter": "datum.s === 'Angström'"}],
     "mark": {"type": "line", "color": "#2244DD", "strokeWidth": 6, "strokeCap": "round", "strokeJoin": "round", "clip": true},
     "encoding": {"x": {"field": "r", "type": "quantitative"}, "y": {"field": "p", "type": "quantitative"}}},
    {"data": {"name": "sum"}, "transform": [{"filter": "datum.s === 'Angström'"}],
     "mark": {"type": "point", "filled": false, "strokeWidth": 1.4, "opacity": 1, "clip": true},
     "encoding": {"x": {"field": "r", "type": "quantitative"}, "y": {"field": "p", "type": "quantitative"},
       "color": {"field": "s", "type": "nominal", "legend": {"title": null, "orient": "none", "legendX": 134, "legendY": 155}},
       "shape": {"field": "s", "type": "nominal", "legend": {"title": null, "orient": "none", "legendX": 134, "legendY": 155}},
       "size": {"field": "s", "type": "nominal", "legend": null}}},
    {"data": {"name": "sum"}, "transform": [{"filter": "datum.s === 'BGC-LV'"}],
     "mark": {"type": "line", "color": "#22DDEE", "strokeWidth": 6, "strokeCap": "round", "strokeJoin": "round", "clip": true},
     "encoding": {"x": {"field": "r", "type": "quantitative"}, "y": {"field": "p", "type": "quantitative"}}},
    {"data": {"name": "sum"}, "transform": [{"filter": "datum.s === 'BGC-LV'"}],
     "mark": {"type": "point", "filled": false, "strokeWidth": 1.4, "opacity": 1, "clip": true},
     "encoding": {"x": {"field": "r", "type": "quantitative"}, "y": {"field": "p", "type": "quantitative"},
       "color": {"field": "s", "type": "nominal", "legend": {"title": null, "orient": "none", "legendX": 134, "legendY": 155}},
       "shape": {"field": "s", "type": "nominal", "legend": {"title": null, "orient": "none", "legendX": 134, "legendY": 155}},
       "size": {"field": "s", "type": "nominal", "legend": null}}},
    {"data": {"name": "suml"},
     "mark": {"type": "line", "strokeWidth": 1.2, "clip": true},
     "encoding": {"x": {"field": "r", "type": "quantitative"}, "y": {"field": "p", "type": "quantitative"},
       "color": {"field": "s", "type": "nominal", "legend": null}}}
  ]
},
{
  "width": 255, "height": 256,
  "title": {"text": "Winter"},
  "layer": [
    {"data": {"name": "win"}, "transform": [{"filter": "datum.s === 'Nesterov'"}],
     "mark": {"type": "line", "color": "#000000", "strokeWidth": 6, "strokeCap": "round", "strokeJoin": "round", "clip": true},
     "encoding": {
       "x": {"field": "r", "type": "quantitative", "scale": {"domain": [-10.56, 274.56], "nice": false, "zero": false}, "axis": {"values": [0, 50, 100, 150, 200, 250], "labelExpr": "datum.value == 150 || datum.value == 250 ? '' : datum.label", "title": "Rank"}},
       "y": {"field": "p", "type": "quantitative", "scale": {"domain": [-4.3, 104.3], "nice": false, "zero": false}, "axis": {"values": [0, 20, 40, 60, 80, 100], "title": "Percentile"}}
     }},
    {"data": {"name": "win"}, "transform": [{"filter": "datum.s === 'Nesterov'"}],
     "mark": {"type": "point", "filled": false, "strokeWidth": 1.4, "opacity": 1, "clip": true},
     "encoding": {"x": {"field": "r", "type": "quantitative"}, "y": {"field": "p", "type": "quantitative"},
       "color": {"field": "s", "type": "nominal", "scale": {"domain": ["BGC-LV", "Angström", "Nesterov", "KBDI", "BGC-SW"], "range": ["#22DDEE", "#2244DD", "#000000", "#EE1111", "#11BB11"]}, "legend": {"title": null, "orient": "none", "legendX": 152, "legendY": 155}},
       "shape": {"field": "s", "type": "nominal", "scale": {"domain": ["BGC-LV", "Angström", "Nesterov", "KBDI", "BGC-SW"], "range": ["diamond", "M-1,-1L1,1M-1,1L1,-1", "circle", "triangle-up", "M-1,0L1,0M0,-1L0,1"]}, "legend": {"title": null, "orient": "none", "legendX": 152, "legendY": 155}},
       "size": {"field": "s", "type": "nominal", "scale": {"domain": ["BGC-LV", "Angström", "Nesterov", "KBDI", "BGC-SW"], "range": [100, 60, 60, 90, 75]}, "legend": null}}},
    {"data": {"name": "win"}, "transform": [{"filter": "datum.s === 'KBDI'"}],
     "mark": {"type": "line", "color": "#EE1111", "strokeWidth": 6, "strokeCap": "round", "strokeJoin": "round", "clip": true},
     "encoding": {"x": {"field": "r", "type": "quantitative"}, "y": {"field": "p", "type": "quantitative"}}},
    {"data": {"name": "win"}, "transform": [{"filter": "datum.s === 'KBDI'"}],
     "mark": {"type": "point", "filled": false, "strokeWidth": 1.4, "opacity": 1, "clip": true},
     "encoding": {"x": {"field": "r", "type": "quantitative"}, "y": {"field": "p", "type": "quantitative"},
       "color": {"field": "s", "type": "nominal", "legend": {"title": null, "orient": "none", "legendX": 152, "legendY": 155}},
       "shape": {"field": "s", "type": "nominal", "legend": {"title": null, "orient": "none", "legendX": 152, "legendY": 155}},
       "size": {"field": "s", "type": "nominal", "legend": null}}},
    {"data": {"name": "win"}, "transform": [{"filter": "datum.s === 'BGC-SW'"}],
     "mark": {"type": "line", "color": "#11BB11", "strokeWidth": 6, "strokeCap": "round", "strokeJoin": "round", "clip": true},
     "encoding": {"x": {"field": "r", "type": "quantitative"}, "y": {"field": "p", "type": "quantitative"}}},
    {"data": {"name": "win"}, "transform": [{"filter": "datum.s === 'BGC-SW'"}],
     "mark": {"type": "point", "filled": false, "strokeWidth": 1.4, "opacity": 1, "clip": true},
     "encoding": {"x": {"field": "r", "type": "quantitative"}, "y": {"field": "p", "type": "quantitative"},
       "color": {"field": "s", "type": "nominal", "legend": {"title": null, "orient": "none", "legendX": 152, "legendY": 155}},
       "shape": {"field": "s", "type": "nominal", "legend": {"title": null, "orient": "none", "legendX": 152, "legendY": 155}},
       "size": {"field": "s", "type": "nominal", "legend": null}}},
    {"data": {"name": "win"}, "transform": [{"filter": "datum.s === 'Angström'"}],
     "mark": {"type": "line", "color": "#2244DD", "strokeWidth": 6, "strokeCap": "round", "strokeJoin": "round", "clip": true},
     "encoding": {"x": {"field": "r", "type": "quantitative"}, "y": {"field": "p", "type": "quantitative"}}},
    {"data": {"name": "win"}, "transform": [{"filter": "datum.s === 'Angström'"}],
     "mark": {"type": "point", "filled": false, "strokeWidth": 1.4, "opacity": 1, "clip": true},
     "encoding": {"x": {"field": "r", "type": "quantitative"}, "y": {"field": "p", "type": "quantitative"},
       "color": {"field": "s", "type": "nominal", "legend": {"title": null, "orient": "none", "legendX": 152, "legendY": 155}},
       "shape": {"field": "s", "type": "nominal", "legend": {"title": null, "orient": "none", "legendX": 152, "legendY": 155}},
       "size": {"field": "s", "type": "nominal", "legend": null}}},
    {"data": {"name": "win"}, "transform": [{"filter": "datum.s === 'BGC-LV'"}],
     "mark": {"type": "line", "color": "#22DDEE", "strokeWidth": 6, "strokeCap": "round", "strokeJoin": "round", "clip": true},
     "encoding": {"x": {"field": "r", "type": "quantitative"}, "y": {"field": "p", "type": "quantitative"}}},
    {"data": {"name": "win"}, "transform": [{"filter": "datum.s === 'BGC-LV'"}],
     "mark": {"type": "point", "filled": false, "strokeWidth": 1.4, "opacity": 1, "clip": true},
     "encoding": {"x": {"field": "r", "type": "quantitative"}, "y": {"field": "p", "type": "quantitative"},
       "color": {"field": "s", "type": "nominal", "legend": {"title": null, "orient": "none", "legendX": 152, "legendY": 155}},
       "shape": {"field": "s", "type": "nominal", "legend": {"title": null, "orient": "none", "legendX": 152, "legendY": 155}},
       "size": {"field": "s", "type": "nominal", "legend": null}}},
    {"data": {"name": "winl"},
     "mark": {"type": "line", "strokeWidth": 1.2, "clip": true},
     "encoding": {"x": {"field": "r", "type": "quantitative"}, "y": {"field": "p", "type": "quantitative"},
       "color": {"field": "s", "type": "nominal", "legend": null}}}
  ]
},
{
  "width": 255, "height": 256,
  "layer": [
    {"data": {"name": "sumz"}, "transform": [{"filter": "datum.s === 'BGC-LV'"}],
     "mark": {"type": "point", "shape": "diamond", "color": "#22DDEE", "filled": false, "size": 100, "strokeWidth": 1.4, "opacity": 1, "clip": true},
     "encoding": {
       "x": {"field": "r", "type": "quantitative", "scale": {"domain": [361.8, 406.9], "nice": false, "zero": false}, "axis": {"values": [370, 380, 390, 400], "title": "Rank"}},
       "y": {"field": "p", "type": "quantitative", "scale": {"domain": [97.92, 100.08], "nice": false, "zero": false}, "axis": {"values": [98, 98.5, 99, 99.5, 100], "format": ".1f", "title": "Percentile"}}
     }},
    {"data": {"name": "sumz"}, "transform": [{"filter": "datum.s === 'Angström'"}],
     "mark": {"type": "point", "shape": "M-1,0L1,0M0,-1L0,1", "color": "#2244DD", "filled": false, "size": 80, "strokeWidth": 1.4, "opacity": 1, "clip": true},
     "encoding": {"x": {"field": "r", "type": "quantitative"}, "y": {"field": "p", "type": "quantitative"}}},
    {"data": {"name": "sumz"}, "transform": [{"filter": "datum.s === 'Nesterov'"}],
     "mark": {"type": "point", "shape": "circle", "color": "#000000", "filled": false, "size": 60, "strokeWidth": 1.4, "opacity": 1, "clip": true},
     "encoding": {"x": {"field": "r", "type": "quantitative"}, "y": {"field": "p", "type": "quantitative"}}},
    {"data": {"name": "sumz"}, "transform": [{"filter": "datum.s === 'KBDI'"}],
     "mark": {"type": "point", "shape": "triangle-up", "color": "#EE1111", "filled": false, "size": 95, "strokeWidth": 1.4, "opacity": 1, "clip": true},
     "encoding": {"x": {"field": "r", "type": "quantitative"}, "y": {"field": "p", "type": "quantitative"}}},
    {"data": {"name": "sumz"}, "transform": [{"filter": "datum.s === 'BGC-SW'"}],
     "mark": {"type": "point", "shape": "M-1,-1L1,1M-1,1L1,-1", "color": "#11BB11", "filled": false, "size": 60, "strokeWidth": 1.4, "opacity": 1, "clip": true},
     "encoding": {"x": {"field": "r", "type": "quantitative"}, "y": {"field": "p", "type": "quantitative"}}},
    {"data": {"values": [{"p": 99.77}]},
     "mark": {"type": "rule", "color": "black", "strokeWidth": 1},
     "encoding": {"y": {"field": "p", "type": "quantitative"}}}
  ]
},
{
  "width": 255, "height": 256,
  "layer": [
    {"data": {"name": "winz"}, "transform": [{"filter": "datum.s === 'BGC-LV'"}],
     "mark": {"type": "point", "shape": "diamond", "color": "#22DDEE", "filled": false, "size": 100, "strokeWidth": 1.4, "opacity": 1, "clip": true},
     "encoding": {
       "x": {"field": "r", "type": "quantitative", "scale": {"domain": [229.68, 265.32], "nice": false, "zero": false}, "axis": {"values": [230, 240, 250, 260], "title": "Rank"}},
       "y": {"field": "p", "type": "quantitative", "scale": {"domain": [97.92, 100.08], "nice": false, "zero": false}, "axis": {"values": [98, 98.5, 99, 99.5, 100], "format": ".1f", "title": "Percentile"}}
     }},
    {"data": {"name": "winz"}, "transform": [{"filter": "datum.s === 'Angström'"}],
     "mark": {"type": "point", "shape": "M-1,-1L1,1M-1,1L1,-1", "color": "#2244DD", "filled": false, "size": 65, "strokeWidth": 1.4, "opacity": 1, "clip": true},
     "encoding": {"x": {"field": "r", "type": "quantitative"}, "y": {"field": "p", "type": "quantitative"}}},
    {"data": {"name": "winz"}, "transform": [{"filter": "datum.s === 'Nesterov'"}],
     "mark": {"type": "point", "shape": "circle", "color": "#000000", "filled": false, "size": 60, "strokeWidth": 1.4, "opacity": 1, "clip": true},
     "encoding": {"x": {"field": "r", "type": "quantitative"}, "y": {"field": "p", "type": "quantitative"}}},
    {"data": {"name": "winz"}, "transform": [{"filter": "datum.s === 'KBDI'"}],
     "mark": {"type": "point", "shape": "triangle-up", "color": "#EE1111", "filled": false, "size": 95, "strokeWidth": 1.4, "opacity": 1, "clip": true},
     "encoding": {"x": {"field": "r", "type": "quantitative"}, "y": {"field": "p", "type": "quantitative"}}},
    {"data": {"name": "winz"}, "transform": [{"filter": "datum.s === 'BGC-SW'"}],
     "mark": {"type": "point", "shape": "M-1,0L1,0M0,-1L0,1", "color": "#11BB11", "filled": false, "size": 80, "strokeWidth": 1.4, "opacity": 1, "clip": true},
     "encoding": {"x": {"field": "r", "type": "quantitative"}, "y": {"field": "p", "type": "quantitative"}}},
    {"data": {"values": [{"p": 99.67}]},
     "mark": {"type": "rule", "color": "black", "strokeWidth": 1},
     "encoding": {"y": {"field": "p", "type": "quantitative"}}}
  ]
}
]
}
